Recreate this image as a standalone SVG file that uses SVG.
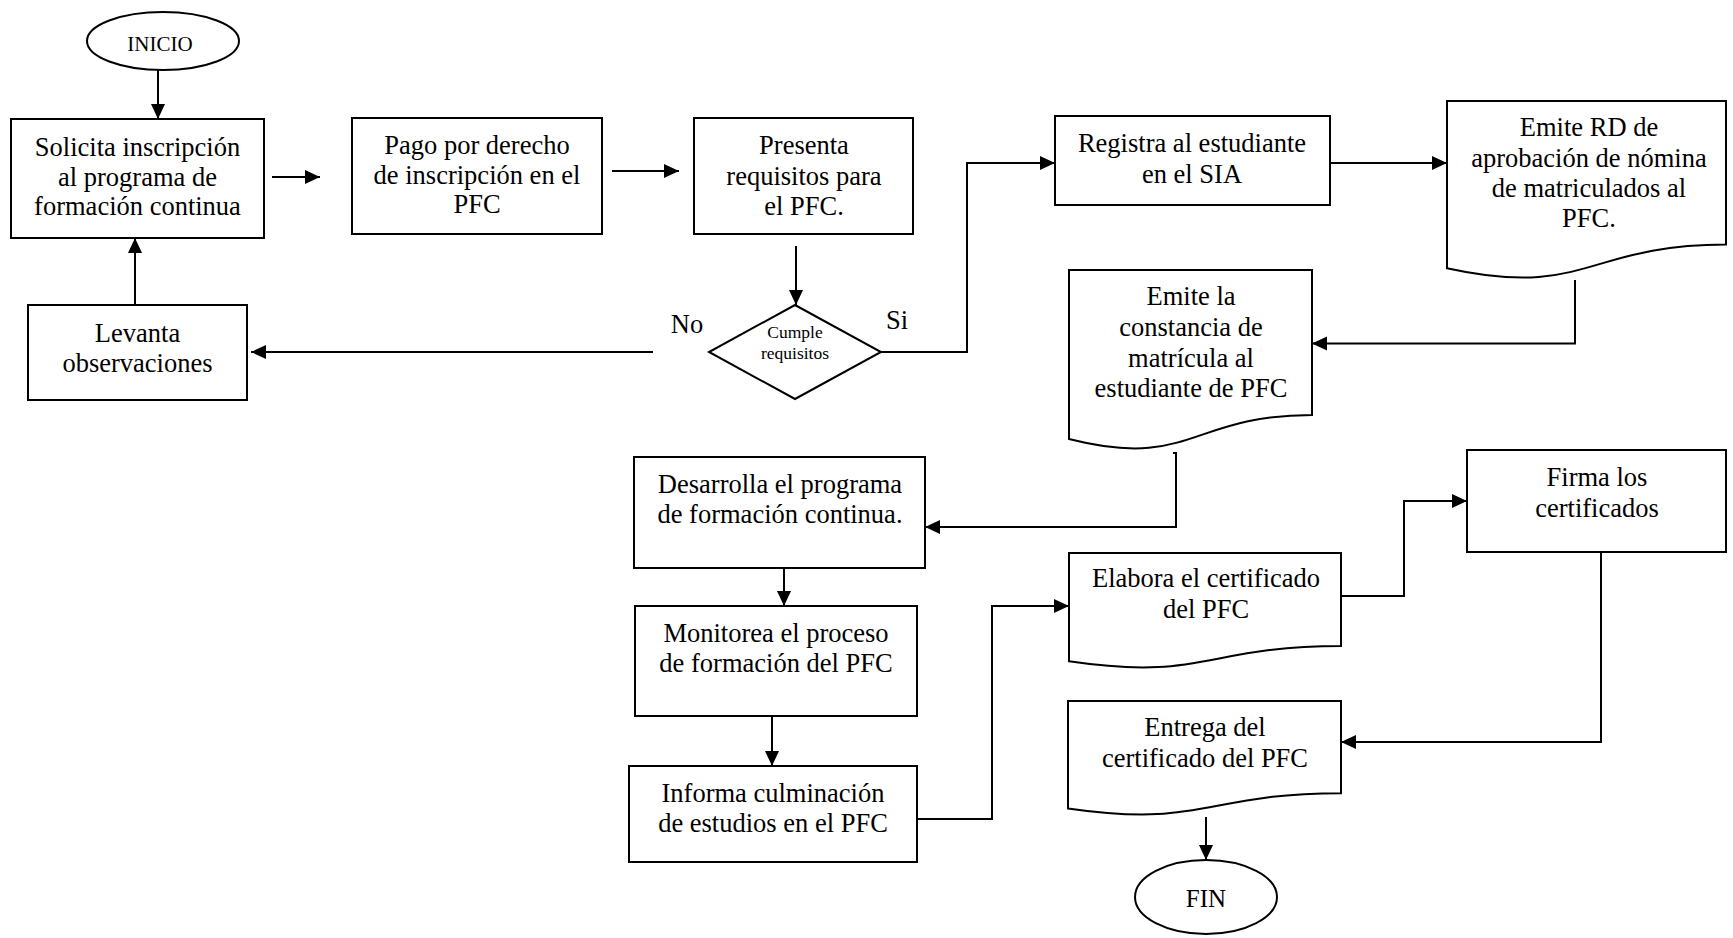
<svg xmlns="http://www.w3.org/2000/svg" width="1733" height="938" viewBox="0 0 1733 938">
  <style>
    .shape { fill: #ffffff; stroke: #000000; stroke-width: 2; }
    .lbl { font-family: "Liberation Serif", "Times New Roman", serif; font-size: 26.5px; fill: #000000; text-anchor: middle; }
    .small { font-size: 17.5px; }
    .term { font-size: 21px; }
    .fin { font-size: 25px; }
    .conn { fill: none; stroke: #000000; stroke-width: 2; }
  </style>
  <defs>
    <marker id="arrow" markerUnits="userSpaceOnUse" markerWidth="16" markerHeight="16" viewBox="0 0 16 16" refX="15" refY="8" orient="auto">
      <path d="M0,1 L15,8 L0,15 Z" fill="#000000"/>
    </marker>
  </defs>
  <rect width="1733" height="938" fill="#ffffff"/>

  <!-- connectors -->
  <g id="connectors" class="conn" marker-end="url(#arrow)">
    <path d="M158,70 V119"/>
    <path d="M272,177 H320"/>
    <path d="M612,171 H679"/>
    <path d="M796,246 V305"/>
    <path d="M653,352 H251"/>
    <path d="M135,305 V238"/>
    <path d="M881,352 H967 V163 H1055"/>
    <path d="M1330,163 H1447"/>
    <path d="M1575,280 V343.5 H1312"/>
    <path d="M1173,453 H1176 V527 H925"/>
    <path d="M784,568 V606"/>
    <path d="M772,716 V766"/>
    <path d="M917,819 H992 V606 H1069"/>
    <path d="M1341,596 H1404 V501 H1467"/>
    <path d="M1601,552 V742 H1341"/>
    <path d="M1206,817 V860"/>
  </g>

  <!-- decision labels -->
  <g id="branch-labels">
    <text class="lbl" x="687" y="333">No</text>
    <text class="lbl" x="897" y="329">Si</text>
  </g>

  <g id="inicio">
    <ellipse class="shape" cx="163" cy="41" rx="76" ry="29"/>
    <text class="lbl term" x="160" y="51">INICIO</text>
  </g>

  <g id="solicita">
    <rect class="shape" x="11" y="119" width="253" height="119"/>
    <text class="lbl" x="137.5" y="156">Solicita inscripción</text>
    <text class="lbl" x="137.5" y="186">al programa de</text>
    <text class="lbl" x="137.5" y="215">formación continua</text>
  </g>

  <g id="pago">
    <rect class="shape" x="352" y="118" width="250" height="116"/>
    <text class="lbl" x="477" y="154">Pago por derecho</text>
    <text class="lbl" x="477" y="184">de inscripción en el</text>
    <text class="lbl" x="477" y="213">PFC</text>
  </g>

  <g id="presenta">
    <rect class="shape" x="694" y="118" width="219" height="116"/>
    <text class="lbl" x="804" y="154">Presenta</text>
    <text class="lbl" x="804" y="185">requisitos para</text>
    <text class="lbl" x="804" y="215">el PFC.</text>
  </g>

  <g id="cumple">
    <polygon class="shape" points="795,305 881,352 795,399 709,352"/>
    <text class="lbl small" x="795" y="338">Cumple</text>
    <text class="lbl small" x="795" y="359">requisitos</text>
  </g>

  <g id="levanta">
    <rect class="shape" x="28" y="305" width="219" height="95"/>
    <text class="lbl" x="137.5" y="342">Levanta</text>
    <text class="lbl" x="137.5" y="372">observaciones</text>
  </g>

  <g id="registra">
    <rect class="shape" x="1055" y="116" width="275" height="89"/>
    <text class="lbl" x="1192" y="152">Registra al estudiante</text>
    <text class="lbl" x="1192" y="183">en el SIA</text>
  </g>

  <!-- document shapes: top edge, right side, wavy bottom -->
  <g id="emite-rd">
    <path class="shape" d="M1447,101 H1726 V244.5 C1586.5,244.5 1586.5,299 1447,268.2 Z"/>
    <text class="lbl" x="1589" y="136">Emite RD de</text>
    <text class="lbl" x="1589" y="167">aprobación de nómina</text>
    <text class="lbl" x="1589" y="197">de matriculados al</text>
    <text class="lbl" x="1589" y="227">PFC.</text>
  </g>

  <g id="constancia">
    <path class="shape" d="M1069,270 H1312 V415 C1190.5,415 1190.5,470 1069,439 Z"/>
    <text class="lbl" x="1191" y="305">Emite la</text>
    <text class="lbl" x="1191" y="336">constancia de</text>
    <text class="lbl" x="1191" y="367">matrícula al</text>
    <text class="lbl" x="1191" y="397">estudiante de PFC</text>
  </g>

  <g id="desarrolla">
    <rect class="shape" x="634" y="457" width="291" height="111"/>
    <text class="lbl" x="780" y="493">Desarrolla el programa</text>
    <text class="lbl" x="780" y="523">de formación continua.</text>
  </g>

  <g id="monitorea">
    <rect class="shape" x="635" y="606" width="282" height="110"/>
    <text class="lbl" x="776" y="642">Monitorea el proceso</text>
    <text class="lbl" x="776" y="672">de formación del PFC</text>
  </g>

  <g id="informa">
    <rect class="shape" x="629" y="766" width="288" height="96"/>
    <text class="lbl" x="773" y="802">Informa culminación</text>
    <text class="lbl" x="773" y="832">de estudios en el PFC</text>
  </g>

  <g id="elabora">
    <path class="shape" d="M1069,553 H1341 V646 C1205,646 1205,681.4 1069,661.3 Z"/>
    <text class="lbl" x="1206" y="587">Elabora el certificado</text>
    <text class="lbl" x="1206" y="618">del PFC</text>
  </g>

  <g id="firma">
    <rect class="shape" x="1467" y="450" width="259" height="102"/>
    <text class="lbl" x="1597" y="486">Firma los</text>
    <text class="lbl" x="1597" y="517">certificados</text>
  </g>

  <g id="entrega">
    <path class="shape" d="M1068,701 H1341 V793.2 C1204.5,793.2 1204.5,828.3 1068,808.4 Z"/>
    <text class="lbl" x="1205" y="736">Entrega del</text>
    <text class="lbl" x="1205" y="767">certificado del PFC</text>
  </g>

  <g id="fin">
    <ellipse class="shape" cx="1206" cy="897" rx="71" ry="37"/>
    <text class="lbl fin" x="1206" y="907">FIN</text>
  </g>
</svg>
